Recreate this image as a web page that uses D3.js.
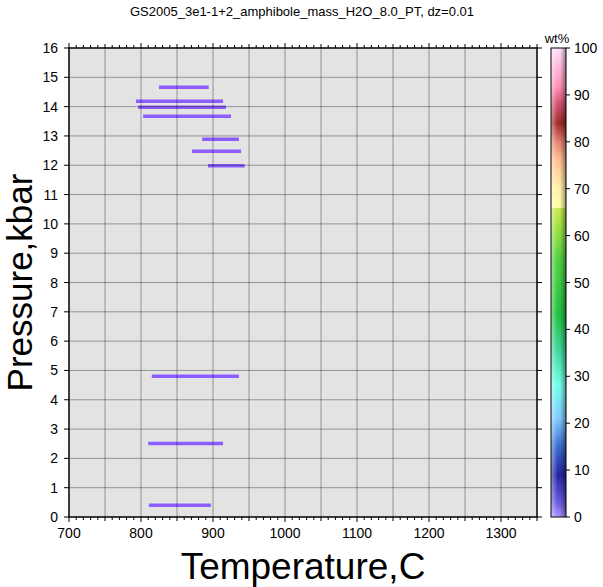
<!DOCTYPE html>
<html><head><meta charset="utf-8">
<script src="https://cdn.jsdelivr.net/npm/d3@7"></script>
<style>body{margin:0;background:#fff}svg{display:block}text{font-family:"Liberation Sans",Arial,Helvetica,sans-serif}</style>
</head><body>
<script>
// Data: each horizontal segment = pressure (kbar), T start, T end (C)
const pressures = [14.66, 14.18, 13.98, 13.67, 12.89, 12.48, 11.98, 4.80, 2.51, 0.40];
const tStart   = [825, 793, 796, 803, 885, 871, 893, 815, 810, 811];
const tEnd     = [894, 914, 918, 925, 936, 939, 944, 936, 914, 897];
const xTicks = [700, 800, 900, 1000, 1100, 1200, 1300];
const yTicks = [0,1,2,3,4,5,6,7,8,9,10,11,12,13,14,15,16];
const cbTicks = [0,10,20,30,40,50,60,70,80,90,100];
const titleText = "GS2005_3e1-1+2_amphibole_mass_H2O_8.0_PT, dz=0.01";

const W = 603, H = 587;
const L = 69, R = 537, T = 48, B = 517;
const svg = d3.select("body").append("svg").attr("width", W).attr("height", H);
svg.append("rect").attr("width", W).attr("height", H).attr("fill", "#fff");

const x = d3.scaleLinear().domain([700, 1350]).range([L, R]);
const y = d3.scaleLinear().domain([0, 16]).range([B, T]);

svg.append("rect").attr("x", L).attr("y", T).attr("width", R - L).attr("height", B - T).attr("fill", "#e3e3e3");

// bars
const segs = pressures.map((p, i) => ({p, a: tStart[i], b: tEnd[i]}));
svg.append("g").selectAll("line").data(segs).join("line")
  .attr("x1", d => x(d.a)).attr("x2", d => x(d.b))
  .attr("y1", d => y(d.p)).attr("y2", d => y(d.p))
  .attr("stroke", "#8b5cff").attr("stroke-width", 3.5);

// grid
const g = svg.append("g").attr("stroke", "#000").attr("stroke-opacity", 0.35).attr("stroke-width", 1);
d3.range(750, 1350, 50).forEach(v => g.append("line").attr("x1", x(v)).attr("x2", x(v)).attr("y1", T).attr("y2", B));
d3.range(1, 16).forEach(v => g.append("line").attr("y1", y(v)).attr("y2", y(v)).attr("x1", L).attr("x2", R));

// ticks
const tk = svg.append("g").attr("stroke", "#000").attr("stroke-width", 1);
d3.range(700, 1351, 10).forEach(v => {
  const big = v % 50 === 0;
  const len = v % 100 === 0 ? 5 : (big ? 4 : 3);
  tk.append("line").attr("x1", x(v)).attr("x2", x(v)).attr("y1", B).attr("y2", B + len);
  tk.append("line").attr("x1", x(v)).attr("x2", x(v)).attr("y1", T).attr("y2", T - len);
});
yTicks.forEach(v => {
  tk.append("line").attr("x1", L - 5).attr("x2", L).attr("y1", y(v)).attr("y2", y(v));
  tk.append("line").attr("x1", R).attr("x2", R + 5).attr("y1", y(v)).attr("y2", y(v));
});

// frame
svg.append("rect").attr("x", L).attr("y", T).attr("width", R - L).attr("height", B - T)
  .attr("fill", "none").attr("stroke", "#000").attr("stroke-width", 1.5);

// tick labels
svg.append("g").selectAll("text").data(xTicks).join("text")
  .attr("x", d => x(d)).attr("y", 538).attr("text-anchor", "middle")
  .attr("font-size", 14).text(d => d);
svg.append("g").selectAll("text").data(yTicks).join("text")
  .attr("x", 58).attr("y", d => y(d) + 5).attr("text-anchor", "end")
  .attr("font-size", 14).text(d => d);

// axis titles
svg.append("text").attr("x", (L + R) / 2).attr("y", 579).attr("text-anchor", "middle")
  .attr("font-size", 37).text("Temperature,C");
svg.append("text").attr("transform", `translate(32,${(T + B) / 2}) rotate(-90)`)
  .attr("text-anchor", "middle").attr("font-size", 35).text("Pressure,kbar");

// title
svg.append("text").attr("x", 302).attr("y", 16).attr("text-anchor", "middle")
  .attr("font-size", 13).text(titleText);

// colorbar
const cbL = 551, cbR = 566;
const cb = d3.scaleLinear().domain([0, 100]).range([B, T]);
const stops = [
  [0, "#a890ff"], [3, "#6a5ae0"], [9, "#2424a0"], [15, "#3a6ad0"], [21, "#80c8ff"],
  [28, "#70ffe8"], [35, "#40d8a0"], [43, "#20c040"], [55, "#50d040"], [62, "#a0e040"],
  [65.9, "#c8e850"], [66, "#ffffa0"], [70, "#fff0a8"], [76, "#ffc090"], [80, "#e08070"],
  [84, "#a02828"], [88, "#d05070"], [92, "#ff90b8"], [100, "#ffe0ff"]
];
const defs = svg.append("defs");
const lg = defs.append("linearGradient").attr("id", "cmap").attr("x1", 0).attr("y1", 1).attr("x2", 0).attr("y2", 0);
stops.forEach(s => lg.append("stop").attr("offset", s[0] / 100).attr("stop-color", s[1]));
const hg = defs.append("linearGradient").attr("id", "shade").attr("x1", 0).attr("y1", 0).attr("x2", 1).attr("y2", 0);
hg.append("stop").attr("offset", 0).attr("stop-color", "#fff").attr("stop-opacity", 0.45);
hg.append("stop").attr("offset", 0.45).attr("stop-color", "#fff").attr("stop-opacity", 0);
hg.append("stop").attr("offset", 0.6).attr("stop-color", "#000").attr("stop-opacity", 0);
hg.append("stop").attr("offset", 1).attr("stop-color", "#000").attr("stop-opacity", 0.4);
svg.append("rect").attr("x", cbL).attr("y", T).attr("width", cbR - cbL).attr("height", B - T).attr("fill", "url(#cmap)");
svg.append("rect").attr("x", cbL).attr("y", T).attr("width", cbR - cbL).attr("height", B - T).attr("fill", "url(#shade)");
svg.append("rect").attr("x", cbL).attr("y", T).attr("width", cbR - cbL).attr("height", B - T)
  .attr("fill", "none").attr("stroke", "#000").attr("stroke-width", 1);
svg.append("g").selectAll("line").data(cbTicks).join("line")
  .attr("x1", cbR).attr("x2", cbR + 4).attr("y1", d => cb(d)).attr("y2", d => cb(d))
  .attr("stroke", "#000").attr("stroke-width", 1);
svg.append("g").selectAll("text").data(cbTicks).join("text")
  .attr("x", 574).attr("y", d => cb(d) + 5).attr("font-size", 14).text(d => d);
svg.append("text").attr("x", 557).attr("y", 43).attr("text-anchor", "middle")
  .attr("font-size", 13).text("wt%");
</script>
</body></html>
